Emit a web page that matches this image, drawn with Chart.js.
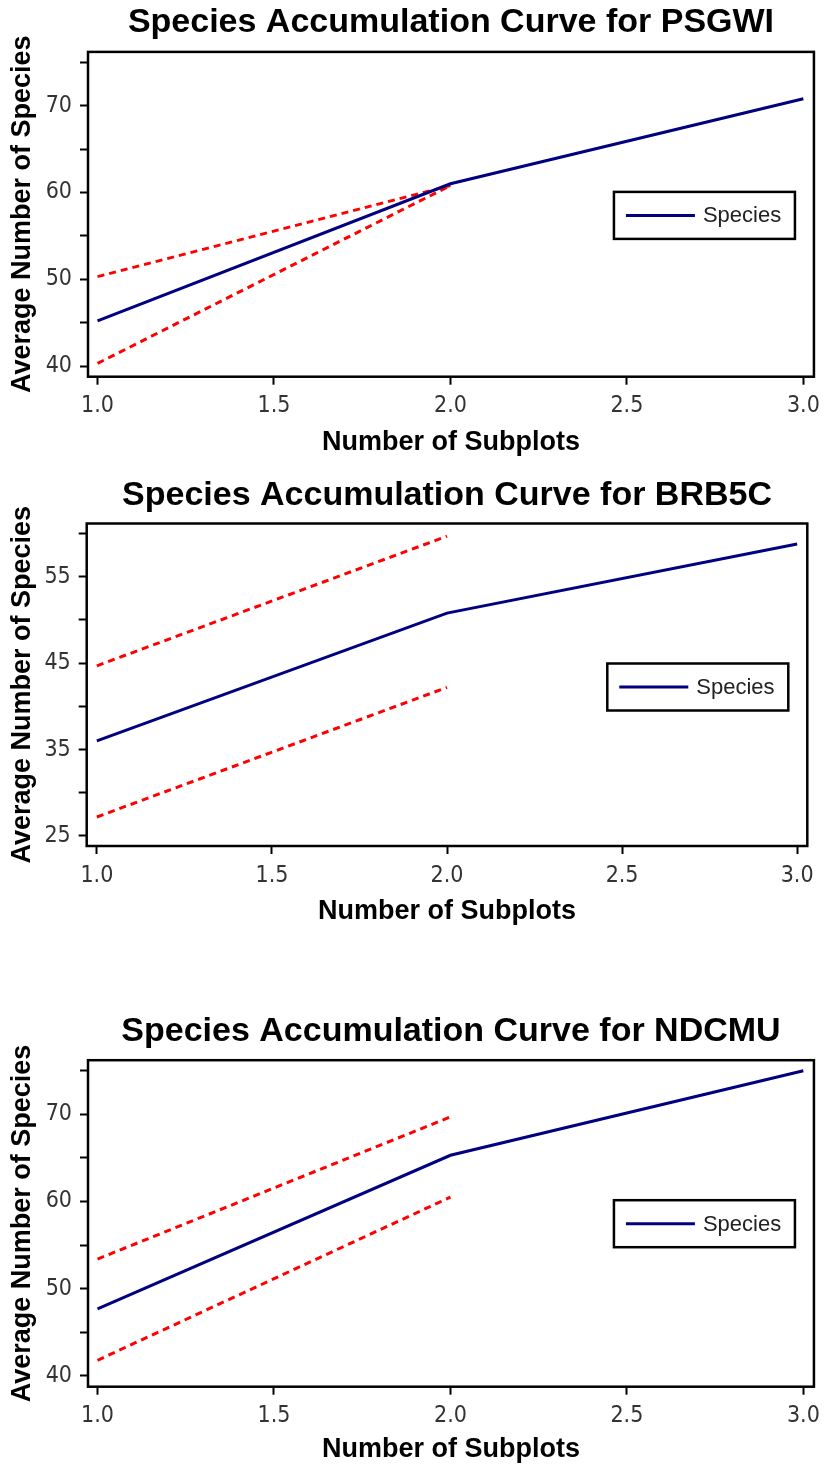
<!DOCTYPE html>
<html>
<head>
<meta charset="utf-8">
<title>Species Accumulation Curves</title>
<script src="https://cdn.jsdelivr.net/npm/chart.js@4.4.1/dist/chart.umd.min.js"></script>
<style>
	body { margin: 0; background: #fff; }
	canvas { position: absolute; left: 0; }
</style>
</head>
<body>
<canvas id="psgwi" width="828" height="462" style="top:0px"></canvas>
<canvas id="brb5c" width="828" height="469" style="top:462px"></canvas>
<canvas id="ndcmu" width="828" height="538" style="top:931px"></canvas>
<script>
// Data
const subplots = [1, 2, 3];
const bandSubplots = [1, 2];

const psgwiSpecies = [45.2, 61.0, 70.8];
const psgwiUpper = [50.3, 60.8];
const psgwiLower = [40.3, 60.8];
const psgwiYLabels = [40, 50, 60, 70];

const brb5cSpecies = [36.0, 50.8, 58.8];
const brb5cUpper = [44.7, 59.7];
const brb5cLower = [27.2, 42.2];
const brb5cYLabels = [25, 35, 45, 55];

const ndcmuSpecies = [47.7, 65.3, 75.0];
const ndcmuUpper = [53.4, 69.7];
const ndcmuLower = [41.8, 60.5];
const ndcmuYLabels = [40, 50, 60, 70];

const FONT = '"Liberation Sans", Arial, Helvetica, sans-serif';
const NARROW = '"Liberation Sans Narrow", "Arial Narrow", "DejaVu Sans Condensed", sans-serif';

function points(xs, ys) {
	return ys.map((y, i) => ({ x: xs[i], y: y }));
}

// Frame around the plot area plus the boxed legend inside it
const framePlugin = {
	id: "frame",
	afterDatasetsDraw(chart) {
		const { ctx, chartArea: a } = chart;
		ctx.save();
		ctx.strokeStyle = "#000";
		ctx.lineWidth = 2.5;
		ctx.strokeRect(a.left, a.top, a.right - a.left, a.bottom - a.top);

		const ds = chart.data.datasets[0];
		const w = 181, h = 47;
		const lx = a.right - 19 - w;
		const ly = a.top + 140;
		ctx.fillStyle = "#fff";
		ctx.fillRect(lx, ly, w, h);
		ctx.strokeRect(lx, ly, w, h);
		ctx.beginPath();
		ctx.strokeStyle = ds.borderColor;
		ctx.lineWidth = ds.borderWidth;
		ctx.moveTo(lx + 12, ly + h / 2);
		ctx.lineTo(lx + 81, ly + h / 2);
		ctx.stroke();
		ctx.fillStyle = "#222";
		ctx.font = "22px " + FONT;
		ctx.textBaseline = "middle";
		ctx.fillText(ds.label, lx + 89, ly + h / 2 + 1);
		ctx.restore();
	},
};

function makeChart(id, opts) {
	const axisTitleFont = { family: FONT, size: 27, weight: "bold" };
	const tickFont = { family: NARROW, size: 23 };
	return new Chart(document.getElementById(id), {
		type: "line",
		data: {
			datasets: [
				{
					label: "Species",
					data: points(subplots, opts.species),
					borderColor: "#000080",
					borderWidth: 3,
					pointRadius: 0,
					tension: 0,
				},
				{
					label: "Upper",
					data: points(bandSubplots, opts.upper),
					borderColor: "#ff0000",
					borderWidth: 3,
					borderDash: [7, 5],
					pointRadius: 0,
					tension: 0,
				},
				{
					label: "Lower",
					data: points(bandSubplots, opts.lower),
					borderColor: "#ff0000",
					borderWidth: 3,
					borderDash: [7, 5],
					pointRadius: 0,
					tension: 0,
				},
			],
		},
		options: {
			responsive: false,
			animation: false,
			events: [],
			layout: { padding: { left: 0, right: opts.padRight, top: 0, bottom: 0 } },
			plugins: {
				legend: { display: false },
				tooltip: { enabled: false },
				title: {
					display: true,
					text: opts.title,
					fullSize: false,
					color: "#000",
					font: { family: FONT, size: 34, weight: "bold" },
					padding: opts.titlePad,
				},
			},
			scales: {
				x: {
					type: "linear",
					min: opts.xMin,
					max: opts.xMax,
					afterFit: (s) => { s.height = opts.xHeight; },
					border: { display: false },
					grid: {
						drawOnChartArea: false,
						drawTicks: true,
						tickLength: 8,
						tickWidth: 2,
						tickColor: "#000",
					},
					ticks: {
						stepSize: 0.5,
						includeBounds: false,
						autoSkip: false,
						maxRotation: 0,
						padding: 8,
						color: "#333",
						font: tickFont,
						callback: (v) => v.toFixed(1),
					},
					title: {
						display: true,
						text: "Number of Subplots",
						color: "#000",
						font: axisTitleFont,
						padding: { top: 0, bottom: 3 },
					},
				},
				y: {
					type: "linear",
					min: opts.yMin,
					max: opts.yMax,
					afterFit: (s) => { s.width = opts.yWidth; },
					border: { display: false },
					grid: {
						drawOnChartArea: false,
						drawTicks: true,
						tickLength: 8,
						tickWidth: 2,
						tickColor: "#000",
					},
					ticks: {
						stepSize: 5,
						includeBounds: false,
						autoSkip: false,
						padding: 8,
						color: "#333",
						font: tickFont,
						callback: (v) => (opts.yLabels.includes(v) ? String(v) : ""),
					},
					title: {
						display: true,
						text: "Average Number of Species",
						color: "#000",
						font: axisTitleFont,
						padding: { top: 6.8, bottom: 0 },
					},
				},
			},
		},
		plugins: [framePlugin],
	});
}

makeChart("psgwi", {
	title: "Species Accumulation Curve for PSGWI",
	species: psgwiSpecies,
	upper: psgwiUpper,
	lower: psgwiLower,
	yLabels: psgwiYLabels,
	yMin: 38.77, yMax: 76.2,
	xMin: 0.973, xMax: 3.03,
	titlePad: { top: 1.8, bottom: 9.3 },
	yWidth: 88, xHeight: 85.3, padRight: 8,
});

makeChart("brb5c", {
	title: "Species Accumulation Curve for BRB5C",
	species: brb5cSpecies,
	upper: brb5cUpper,
	lower: brb5cLower,
	yLabels: brb5cYLabels,
	yMin: 23.84, yMax: 61.17,
	xMin: 0.971, xMax: 3.029,
	titlePad: { top: 13.6, bottom: 7.1 },
	yWidth: 86.7, xHeight: 85, padRight: 20.7,
});

makeChart("ndcmu", {
	title: "Species Accumulation Curve for NDCMU",
	species: ndcmuSpecies,
	upper: ndcmuUpper,
	lower: ndcmuLower,
	yLabels: ndcmuYLabels,
	yMin: 38.77, yMax: 76.2,
	xMin: 0.973, xMax: 3.03,
	titlePad: { top: 80.6, bottom: 7.8 },
	yWidth: 88, xHeight: 82.3, padRight: 8.7,
});
</script>
</body>
</html>
